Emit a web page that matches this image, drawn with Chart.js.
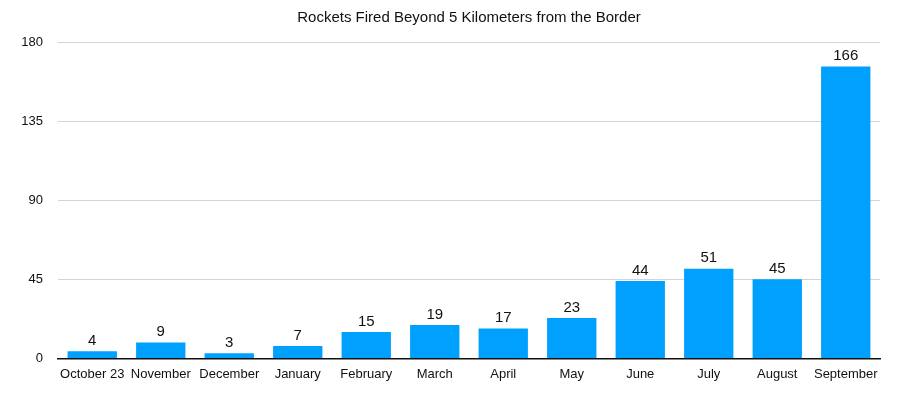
<!DOCTYPE html>
<html>
<head>
<meta charset="utf-8">
<script src="https://cdn.jsdelivr.net/npm/chart.js@4"></script>
<style>
html,body{margin:0;padding:0;background:#fff;}
#wrap{width:905px;height:395px;position:relative;}
</style>
</head>
<body>
<div id="wrap"><canvas id="c" width="905" height="395"></canvas></div>
<script>
const categories = ["October 23","November","December","January","February","March","April","May","June","July","August","September"];
const rockets = [4, 9, 3, 7, 15, 19, 17, 23, 44, 51, 45, 166];
const yTicks = [0, 45, 90, 135, 180];
const chartTitle = "Rockets Fired Beyond 5 Kilometers from the Border";

const FONT = "'Liberation Sans', Arial, Helvetica, sans-serif";

const valueLabels = {
  id: 'valueLabels',
  afterDatasetsDraw(chart) {
    const ctx = chart.ctx;
    const meta = chart.getDatasetMeta(0);
    ctx.save();
    ctx.font = "15px " + FONT;
    ctx.fillStyle = '#111';
    ctx.textAlign = 'center';
    ctx.textBaseline = 'bottom';
    meta.data.forEach((bar, i) => {
      ctx.fillText(String(chart.data.datasets[0].data[i]), bar.x, bar.y - 3);
    });
    ctx.restore();
  }
};

new Chart(document.getElementById('c'), {
  type: 'bar',
  data: {
    labels: categories,
    datasets: [{
      data: rockets,
      backgroundColor: '#00a0ff',
      barPercentage: 0.72,
      categoryPercentage: 1.0
    }]
  },
  options: {
    responsive: false,
    animation: false,
    devicePixelRatio: 1,
    layout: { padding: { left: 0, right: 25, top: 0, bottom: 5 } },
    plugins: {
      legend: { display: false },
      tooltip: { enabled: false },
      title: {
        display: true,
        fullSize: false,
        text: chartTitle,
        color: '#111',
        font: { family: FONT, size: 15, weight: 'normal' },
        padding: { top: 9, bottom: 15 }
      }
    },
    scales: {
      x: {
        grid: { display: false, drawTicks: false },
        border: { display: true, color: '#111', width: 1.5 },
        ticks: { color: '#111', font: { family: FONT, size: 13 }, padding: 8, maxRotation: 0, autoSkip: false }
      },
      y: {
        min: 0, max: 180,
        afterBuildTicks(axis) { axis.ticks = yTicks.map(v => ({ value: v })); },
        afterFit(axis) { axis.width = 58; },
        grid: {
          drawTicks: false,
          color: (c) => (c.tick && c.tick.value === 0) ? '#111' : '#d4d4d4',
          lineWidth: 1
        },
        border: { display: false },
        ticks: { color: '#111', font: { family: FONT, size: 13 }, padding: 15 }
      }
    }
  },
  plugins: [valueLabels]
});
</script>
</body>
</html>
